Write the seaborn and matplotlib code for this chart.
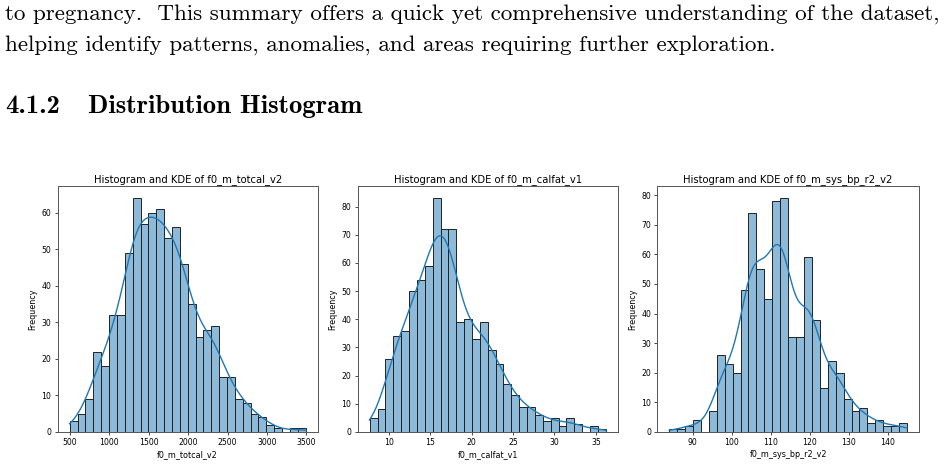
import numpy as np
import pandas as pd
import matplotlib
matplotlib.use('Agg')
import matplotlib.pyplot as plt
import seaborn as sns

# counts per bin (30 bins each)
totcal_counts = [3, 5, 9, 22, 18, 32, 32, 49, 64, 57, 60, 61, 53, 56, 46,
                 35, 26, 28, 29, 15, 15, 9, 8, 5, 4, 2, 1, 0, 1, 1]
totcal_range = (500, 3490)

calfat_counts = [5, 8, 26, 34, 36, 50, 54, 59, 83, 72, 72, 39, 40, 33, 39,
                 29, 24, 17, 13, 9, 9, 6, 4, 5, 2, 5, 3, 0, 2, 1]
calfat_range = (7.7, 36.2)

sysbp_counts = [1, 1, 2, 4, 0, 7, 26, 23, 20, 48, 74, 55, 45, 78, 79,
                32, 32, 59, 38, 15, 24, 20, 11, 7, 8, 3, 4, 2, 2, 3]
sysbp_range = (84, 145)

variables = ['f0_m_totcal_v2', 'f0_m_calfat_v1', 'f0_m_sys_bp_r2_v2']
all_counts = [totcal_counts, calfat_counts, sysbp_counts]
all_ranges = [totcal_range, calfat_range, sysbp_range]

fig = plt.figure(figsize=(9.46, 4.65), dpi=100)
fig.patch.set_facecolor('white')

# document text above the figure
fig.text(5 / 946, 1 - 14 / 465,
         'to pregnancy.  This summary offers a quick yet comprehensive understanding of the dataset,',
         family='cmr10', fontsize=16.6, va='center', ha='left')
fig.text(5 / 946, 1 - 45 / 465,
         'helping identify patterns, anomalies, and areas requiring further exploration.',
         family='cmr10', fontsize=16.6, va='center', ha='left')
fig.text(5 / 946, 1 - 106 / 465, '4.1.2', family='cmb10', fontsize=19.2,
         va='center', ha='left')
fig.text(88 / 946, 1 - 106 / 465, 'Distribution Histogram', family='cmb10',
         fontsize=19.2, va='center', ha='left')

lefts = [0.061, 0.378, 0.6948]
widths = [0.2748, 0.2752, 0.2766]

for i, var in enumerate(variables):
    ax = fig.add_axes([lefts[i], 0.071, widths[i], 0.528])
    lo, hi = all_ranges[i]
    nb = len(all_counts[i])
    edges = np.linspace(lo, hi, nb + 1)
    centers = (edges[:-1] + edges[1:]) / 2
    df = pd.DataFrame({var: np.repeat(centers, all_counts[i])})
    sns.histplot(data=df, x=var, bins=nb, binrange=(lo, hi),
                 kde=True, kde_kws={'cut': 0.4}, ax=ax, color='#1f77b4',
                 edgecolor='#222222', linewidth=0.7)
    for line in ax.lines:
        line.set_linewidth(1.0)
    ax.set_title(f'Histogram and KDE of {var}', fontsize=7.2, pad=3)
    ax.set_xlabel(var, fontsize=5.8, labelpad=2)
    ax.set_ylabel('Frequency', fontsize=5.8, labelpad=3)
    ax.tick_params(labelsize=5.6, length=2.5, width=0.5, pad=2)
    for s in ax.spines.values():
        s.set_linewidth(0.7)
        s.set_color('#555555')

fig.savefig('out.png', dpi=100, facecolor='white')
